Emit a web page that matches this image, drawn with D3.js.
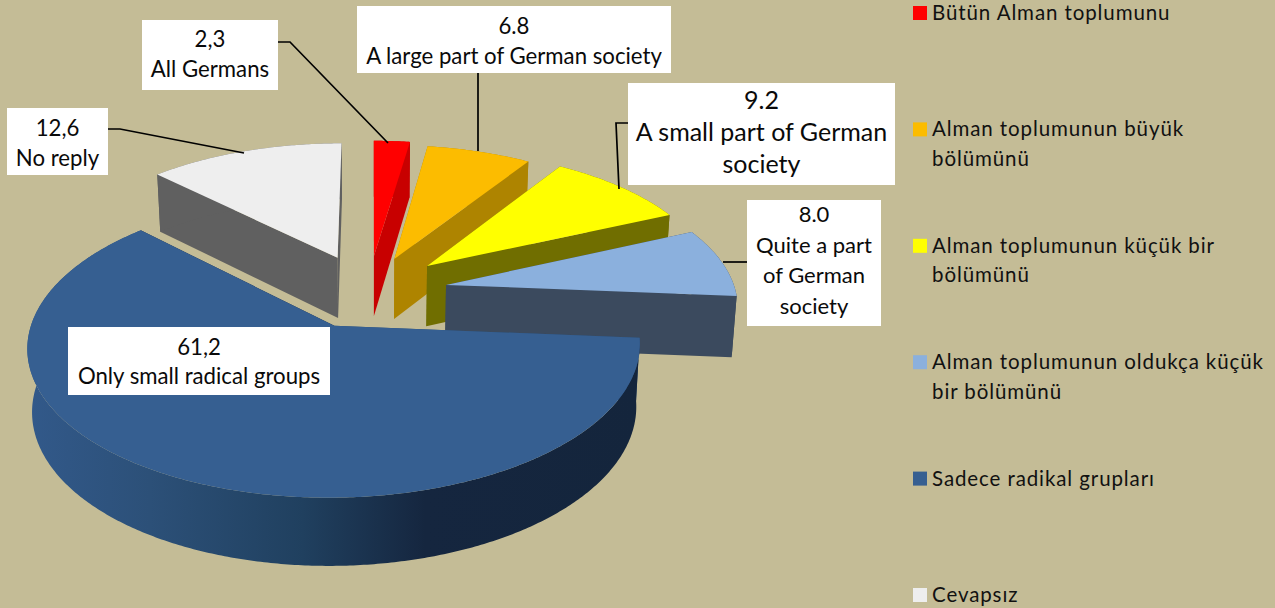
<!DOCTYPE html>
<html>
<head>
<meta charset="utf-8">
<script src="https://cdn.jsdelivr.net/npm/d3@7"></script>
<style>
  html, body { margin: 0; padding: 0; background: #c4bc96; }
  svg { display: block; font-family: Lato, sans-serif; }
  .label-text { font-size: 22px; fill: #0a0a0a; text-anchor: middle; }
  .legend-text { font-size: 20.5px; fill: #111; letter-spacing: 0.9px; }
</style>
</head>
<body>
<svg width="1275" height="608"></svg>
<script>
// chart data
const categories = ['Bütün Alman toplumunu', 'Alman toplumunun büyük bölümünü', 'Alman toplumunun küçük bir bölümünü',
  'Alman toplumunun oldukça küçük bir bölümünü', 'Sadece radikal grupları', 'Cevapsız'];
const values = [2.3, 6.8, 9.2, 8.0, 61.2, 12.6];
const valueLabels = ['2,3', '6.8', '9.2', '8.0', '61,2', '12,6'];
const labelLines = [['All Germans'], ['A large part of German society'], ['A small part of German', 'society'],
  ['Quite a part', 'of German', 'society'], ['Only small radical groups'], ['No reply']];
const legendLines = [['Bütün Alman toplumunu'], ['Alman toplumunun büyük', 'bölümünü'], ['Alman toplumunun küçük bir', 'bölümünü'],
  ['Alman toplumunun oldukça küçük', 'bir bölümünü'], ['Sadece radikal grupları'], ['Cevapsız']];

// styles
const topColors = ['#ff0000', '#fcbc00', '#ffff00', '#8bb0dd', '#365f91', '#eeeeee'];
const wallColors = ['#c80000', '#ae8400', '#706e00', '#3b4a5e', 'url(#bigWall)', '#606060'];
const explode = [0.275, 0.215, 0.25, 0.255, 0.315, 0.26];
const radiusShare = [1, 0.98, 0.99, 0.99, 1.005, 0.99];
const nudgeX = [-5, 0, 0, 0, 1, -7.5];
const nudgeY = [-15, 0, -4.5, -11, 2, -9];
const drawOrder = [5, 0, 1, 2, 3, 4];

// label boxes
const labelBoxes = [
  { x: 142, y: 20, w: 136, h: 70, first: 47, step: 30, size: 22.2 },
  { x: 357, y: 6, w: 314, h: 67, first: 34, step: 30, size: 22.2 },
  { x: 628, y: 83, w: 267, h: 102, first: 109, step: 32, size: 25 },
  { x: 747, y: 200, w: 134, h: 126, first: 222, step: 30.5, size: 22 },
  { x: 68, y: 327, w: 262, h: 68, first: 355, step: 29, size: 22.2 },
  { x: 7, y: 108, w: 101, h: 67, first: 136, step: 30, size: 22.2 }
];
const leaders = [
  [[278, 42], [290, 42], [388, 143]],
  [[478, 73], [478, 151]],
  [[628, 123], [616, 123], [619, 189]],
  [[747, 262], [723, 262]],
  [[108, 129], [120, 129], [244, 153]]
];

const svg = d3.select('svg');
const width = +svg.attr('width');
const height = +svg.attr('height');

// perspective of the pie plane
const R = 302;
const centerY = 85;
const vanishX = 373;
const horizonY = -770;
const planeA = 1096;
const depth = 0.135;
const wallH = 62.5;
const wallLean = 0.0137;

const project = (X, Y, z) => {
  const k = 1 / (1 + depth * Y / R);
  const px = vanishX + X * k;
  const py = horizonY + planeA * k;
  return [vanishX + (px - vanishX) * (1 - wallLean * z), py + wallH * z * Math.pow(k, 0.6)];
};

const defs = svg.append('defs');
const grad = defs.append('linearGradient').attr('id', 'bigWall');
[[0, '#32598a'], [0.2, '#2c5078'], [0.45, '#20405f'], [0.65, '#15263f'], [1, '#14253c']].forEach(s => {
  grad.append('stop').attr('offset', s[0]).attr('stop-color', s[1]);
});

const pie = d3.pie().sort(null).value(d => d).startAngle(0).endAngle(2 * Math.PI);
const arcs = pie(values);
const line = d3.line().curve(d3.curveLinearClosed);

const slices = arcs.map((a, i) => {
  const mid = (a.startAngle + a.endAngle) / 2;
  const ax = explode[i] * R * Math.sin(mid) + nudgeX[i];
  const ay = centerY + explode[i] * R * Math.cos(mid) + nudgeY[i];
  const r = radiusShare[i] * R;
  const angles = d3.range(a.startAngle, a.endAngle, 0.01).concat([a.endAngle]);
  const rim = z => angles.map(t => project(ax + r * Math.sin(t), ay + r * Math.cos(t), z));
  return { i, apex: z => project(ax, ay, z), rim };
});

const g = svg.append('g');
drawOrder.forEach(i => {
  const s = slices[i];
  const group = g.append('g').attr('class', 'slice');
  const top = s.rim(0);
  const bottom = s.rim(1);
  const cut = idx => [s.apex(0), top[idx], bottom[idx], s.apex(1)];
  group.append('path').attr('d', line(cut(0))).attr('fill', wallColors[i] === 'url(#bigWall)' ? '#2c5078' : wallColors[i]);
  group.append('path').attr('d', line(top.concat(bottom.slice().reverse()))).attr('fill', wallColors[i]);
  group.append('path').attr('d', line(cut(top.length - 1))).attr('fill', wallColors[i] === 'url(#bigWall)' ? '#14253c' : wallColors[i]);
  group.append('path').attr('d', line([s.apex(0)].concat(top))).attr('fill', topColors[i]);
});

// leader lines
const leaderLine = d3.line();
svg.append('g').selectAll('path').data(leaders).enter().append('path')
  .attr('d', leaderLine)
  .attr('fill', 'none')
  .attr('stroke', '#000')
  .attr('stroke-width', 1.7);

// data labels
const labels = svg.append('g').selectAll('g').data(labelBoxes).enter().append('g');
labels.append('rect')
  .attr('x', d => d.x).attr('y', d => d.y)
  .attr('width', d => d.w).attr('height', d => d.h)
  .attr('fill', '#fff');
labels.each(function (d, i) {
  const rows = [valueLabels[i]].concat(labelLines[i]);
  d3.select(this).selectAll('text').data(rows).enter().append('text')
    .attr('class', 'label-text')
    .attr('x', d.x + d.w / 2)
    .attr('y', (t, j) => d.first + j * d.step)
    .style('font-size', d.size + 'px')
    .text(t => t);
});

// legend
const legendY = d3.scalePoint().domain(categories).range([13, 595]);
const legend = svg.append('g').selectAll('g').data(categories).enter().append('g')
  .attr('transform', d => `translate(913,${legendY(d)})`);
legend.append('rect')
  .attr('x', 0).attr('y', -7)
  .attr('width', 14).attr('height', 14)
  .attr('fill', (d, i) => topColors[i]);
legend.each(function (d, i) {
  d3.select(this).selectAll('text').data(legendLines[i]).enter().append('text')
    .attr('class', 'legend-text')
    .attr('x', 19)
    .attr('y', (t, j) => 7 + j * 29.5)
    .text(t => t);
});
</script>
</body>
</html>
